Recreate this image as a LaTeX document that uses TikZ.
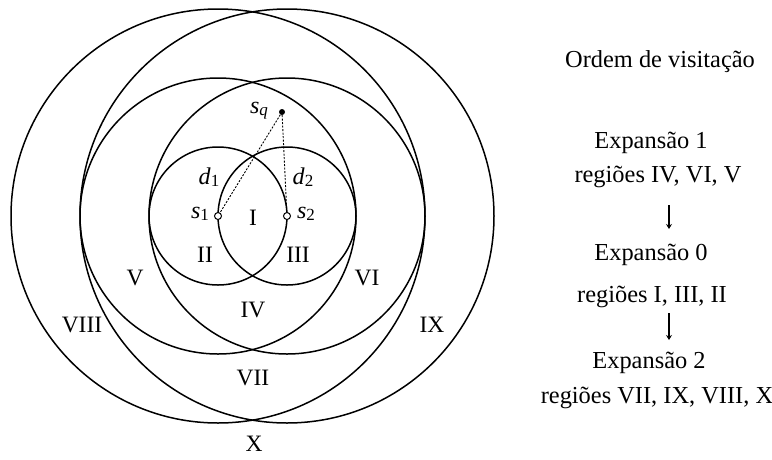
\documentclass[tikz,border=0pt]{standalone}
\usepackage{fontspec}
\setmainfont{Liberation Serif}
\usetikzlibrary{arrows.meta}
\newcommand\symsub[2]{\textit{#1}\raisebox{-0.2ex}{\fontsize{17}{17}\selectfont #2}}
\tikzset{
  ring/.style={draw, line width=1.5pt},
  reg/.style={font=\fontsize{23.5}{23.5}\selectfont, inner sep=0pt},
  sym/.style={font=\fontsize{24}{24}\selectfont, inner sep=0pt},
  txt/.style={font=\fontsize{24.4}{24.4}\selectfont, inner sep=0pt},
  dist/.style={line width=0.9pt, dash pattern=on 2pt off 1.5pt},
  down/.style={line width=1.1pt, -{Stealth[length=5pt,width=6pt]}}
}
\begin{document}
\begin{tikzpicture}[x=1pt,y=-1pt]
\useasboundingbox[fill=white] (0,0) rectangle (772,459);
% centres
\coordinate (c1) at (218,216);
\coordinate (c2) at (287,216);
% circles
\draw[ring] (c1) circle[radius=69];
\draw[ring] (c2) circle[radius=69];
\draw[ring] (c1) circle[radius=138];
\draw[ring] (c2) circle[radius=138];
\draw[ring] (c1) circle[radius=207];
\draw[ring] (c2) circle[radius=207];
% points
\node[circle, fill=black, inner sep=0pt, minimum size=6pt] (sq) at (282,112) {};
\draw[dist] (sq) -- (c1);
\draw[dist] (sq) -- (c2);
\node[circle, draw, fill=white, line width=1pt, inner sep=0pt, minimum size=7pt] (p1) at (c1) {};
\node[circle, draw, fill=white, line width=1pt, inner sep=0pt, minimum size=7pt] (p2) at (c2) {};
% symbol labels
\node[sym] (lsq) at (259,111) {\symsub{s}{\textit{q}}};
\node[sym] (ld1) at (209,177) {\symsub{d}{1}};
\node[sym] (ld2) at (303,177) {\symsub{d}{2}};
\node[sym] (ls1) at (200,214) {\symsub{s}{1}};
\node[sym] (ls2) at (306,214) {\symsub{s}{2}};
% region labels
\node[reg] (rI) at (253,218) {I};
\node[reg] (rII) at (205,255) {II};
\node[reg] (rIII) at (298,255) {III};
\node[reg] (rIV) at (253,310) {IV};
\node[reg] (rV) at (135,278) {V};
\node[reg] (rVI) at (367,278) {VI};
\node[reg] (rVII) at (253,378) {VII};
\node[reg] (rVIII) at (82,325) {VIII};
\node[reg] (rIX) at (432,325) {IX};
\node[reg] (rX) at (254,444) {X};
% visitation order
\node[txt] (title) at (660,62) {Ordem de visita\c{c}\~ao};
\node[txt] (e1) at (651,143) {Expans\~ao 1};
\node[txt] (r1) at (658,177) {regi\~oes IV, VI, V};
\node[txt] (e0) at (651,255) {Expans\~ao 0};
\node[txt] (r0) at (652,297) {regi\~oes I, III, II};
\node[txt] (e2) at (649,363) {Expans\~ao 2};
\node[txt] (r2) at (657,398) {regi\~oes VII, IX, VIII, X};
\coordinate (a1s) at (669,205);
\coordinate (a1e) at (669,229);
\coordinate (a2s) at (669,313);
\coordinate (a2e) at (669,340);
\draw[down] (a1s) -- (a1e);
\draw[down] (a2s) -- (a2e);
\end{tikzpicture}
\end{document}
